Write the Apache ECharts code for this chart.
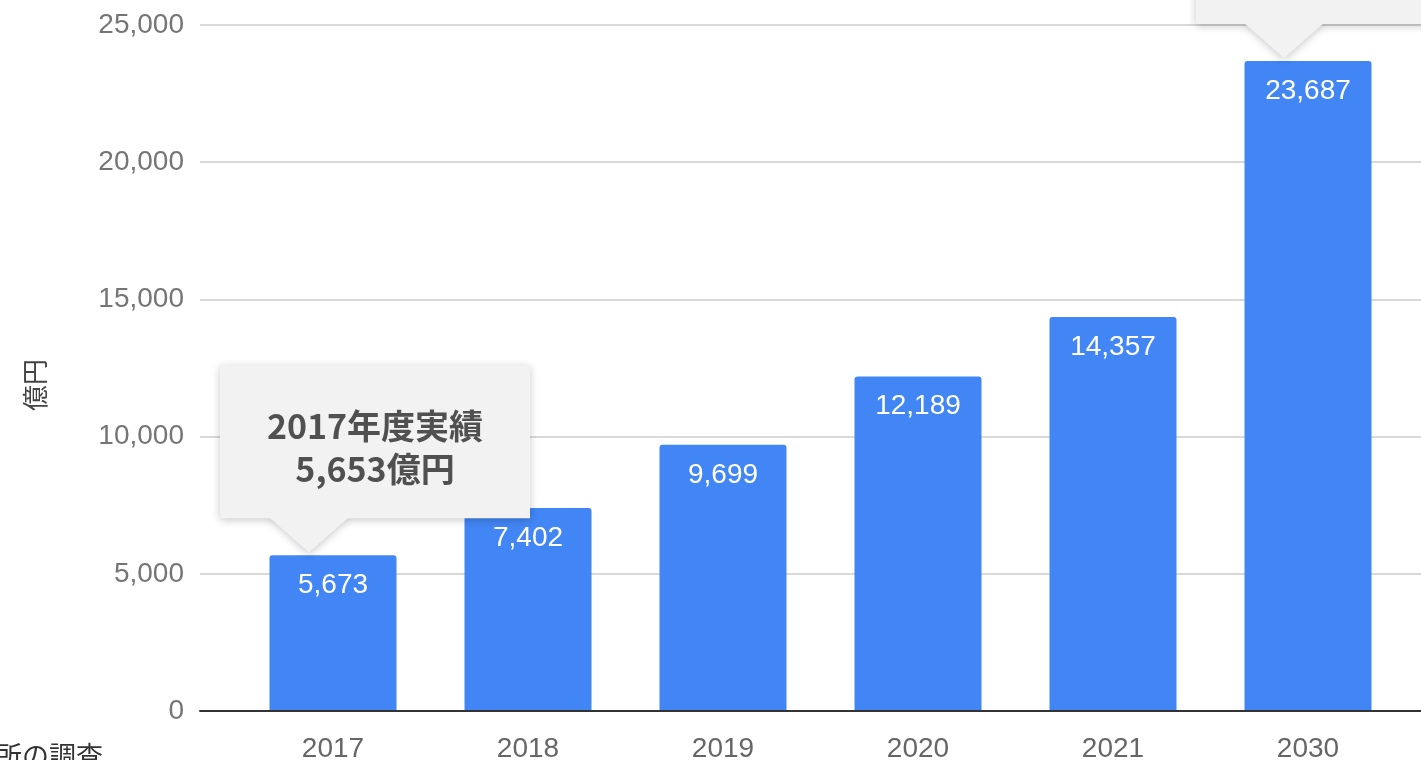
<!DOCTYPE html>
<html><head><meta charset="utf-8">
<style>html,body{margin:0;padding:0;background:#fff;}#c{width:1421px;height:760px;}</style>
<script src="https://cdn.jsdelivr.net/npm/echarts@6/dist/echarts.min.js"></script>
</head><body><div id="c"></div>
<script>
const categories = ['2017','2018','2019','2020','2021','2030'];
const values = [5673, 7402, 9699, 12189, 14357, 23687];
const yTicks = [0, 5000, 10000, 15000, 20000, 25000];
const yAxisName = '億円';
const sourceText = '矢野経済研究所の調査';
const callouts = [
  {cat: '2017', value: 5673, lines: ['2017年度実績', '5,653億円']},
  {cat: '2030', value: 23687, lines: ['', '']}
];

const chart = echarts.init(document.getElementById('c'), null, {renderer: 'canvas'});
const fmt = v => v.toLocaleString('en-US');
const yMin = yTicks[0], yMax = yTicks[yTicks.length - 1], yInt = yTicks[1] - yTicks[0];
const FONT = '"Liberation Sans", Arial, sans-serif';

chart.setOption({
  animation: false,
  backgroundColor: '#fff',
  grid: [
    {left: 200, right: -20, top: 25, height: 686, containLabel: false, outerBoundsMode: 'none'},
    {left: 235.5, width: 1170, top: 25, height: 686, containLabel: false, outerBoundsMode: 'none'}
  ],
  xAxis: [
    {gridIndex: 0, type: 'value', min: 0, max: 1, axisLine: {show: true, lineStyle: {color: '#333', width: 2}},
     axisTick: {show: false}, axisLabel: {show: false}, splitLine: {show: false}, z: 5},
    {gridIndex: 1, type: 'category', data: categories, axisLine: {show: false}, axisTick: {show: false},
     axisLabel: {color: '#666', fontSize: 28, fontFamily: FONT, margin: 24}}
  ],
  yAxis: [
    {gridIndex: 0, type: 'value', min: yMin, max: yMax, interval: yInt,
     axisLine: {show: false}, axisTick: {show: false},
     axisLabel: {color: '#757575', fontSize: 28, fontFamily: FONT, margin: 16, formatter: v => fmt(v)},
     splitLine: {lineStyle: {color: '#cccccc', width: 1.5}}},
    {gridIndex: 1, type: 'value', min: yMin, max: yMax, interval: yInt, show: false, splitLine: {show: false}}
  ],
  series: [{
    type: 'bar', xAxisIndex: 1, yAxisIndex: 1, data: values, barWidth: 127,
    itemStyle: {color: '#4285f4', borderRadius: [3, 3, 0, 0]},
    label: {show: true, position: 'insideTop', distance: 16, color: '#fff', fontSize: 28,
            fontFamily: FONT, formatter: p => fmt(p.value)}
  }]
});

function buildGraphics() {
  const g = [];
  g.push({type: 'text', x: 35, y: 385, rotation: Math.PI / 2,
    style: {text: yAxisName, fill: '#444', font: '26px "Noto Sans CJK JP"', textAlign: 'center', textVerticalAlign: 'middle'}});
  g.push({type: 'text', x: 103, y: 756,
    style: {text: sourceText, fill: '#333', font: '27px "Noto Sans CJK JP"', textAlign: 'right', textVerticalAlign: 'middle'}});
  const shadow = {shadowBlur: 8, shadowOffsetY: 2, shadowColor: 'rgba(0,0,0,0.22)'};
  callouts.forEach((c, i) => {
    const p = chart.convertToPixel({xAxisIndex: 1, yAxisIndex: 1}, [c.cat, c.value]);
    const tipX = p[0] - 24, tipY = p[1] - 3;
    let box;
    if (i === 0) box = {x: tipX - 89, y: tipY - 187, w: 310, h: 153};
    else box = {x: tipX - 88, y: tipY - 190, w: 310, h: 156};
    const baseY = box.y + box.h;
    g.push({type: 'polygon', z: 10, shape: {points: [[tipX - 40, baseY - 2], [tipX + 40, baseY - 2], [tipX, tipY]]},
      style: Object.assign({fill: '#f2f2f2'}, shadow)});
    g.push({type: 'rect', z: 11, shape: {x: box.x, y: box.y, width: box.w, height: box.h},
      style: Object.assign({fill: '#f2f2f2'}, shadow)});
    g.push({type: 'polygon', z: 12, shape: {points: [[tipX - 40, baseY - 1], [tipX + 40, baseY - 1], [tipX, tipY]]},
      style: {fill: '#f2f2f2'}});
    c.lines.forEach((t, k) => {
      if (!t) return;
      g.push({type: 'text', z: 13, x: box.x + box.w / 2, y: box.y + 61 + k * 43,
        style: {text: t, fill: '#505050', font: 'bold 34px "Noto Sans CJK JP"', textAlign: 'center', textVerticalAlign: 'middle'}});
    });
  });
  chart.setOption({graphic: g});
}
buildGraphics();
</script></body></html>
